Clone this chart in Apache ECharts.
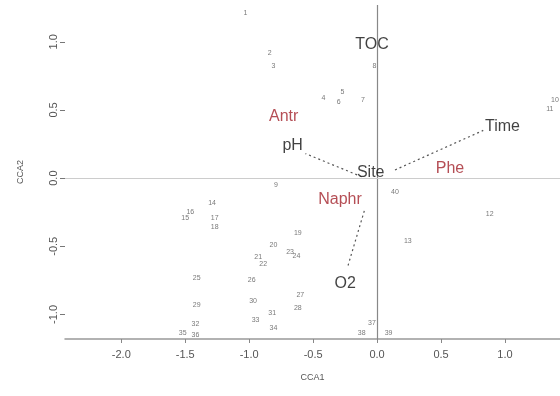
<!DOCTYPE html>
<html>
<head>
<meta charset="utf-8">
<script src="https://cdn.jsdelivr.net/npm/echarts@6/dist/echarts.min.js"></script>
<style>
  html, body { margin: 0; padding: 0; background: #fff; }
  #chart { width: 560px; height: 396px; }
</style>
</head>
<body>
<div id="chart"></div>
<script>
// axis ticks
const xTicks = [-2.0, -1.5, -1.0, -0.5, 0.0, 0.5, 1.0];
const yTicks = [-1.0, -0.5, 0.0, 0.5, 1.0];

// site scores (CCA1, CCA2)
const siteIds = ["1", "2", "3", "4", "5", "6", "7", "8", "9", "10",
  "11", "12", "13", "14", "15", "16", "17", "18", "19", "20",
  "21", "22", "23", "24", "25", "26", "27", "28", "29", "30",
  "31", "32", "33", "34", "35", "36", "37", "38", "39", "40"];
const siteX = [-1.03, -0.84, -0.81, -0.42, -0.27, -0.30, -0.11, -0.02, -0.79, 1.39,
  1.35, 0.88, 0.24, -1.29, -1.50, -1.46, -1.27, -1.27, -0.62, -0.81,
  -0.93, -0.89, -0.68, -0.63, -1.41, -0.98, -0.60, -0.62, -1.41, -0.97,
  -0.82, -1.42, -0.95, -0.81, -1.52, -1.42, -0.04, -0.12, 0.09, 0.14];
const siteY = [1.21, 0.92, 0.82, 0.59, 0.63, 0.56, 0.57, 0.82, -0.05, 0.57,
  0.51, -0.26, -0.46, -0.18, -0.29, -0.25, -0.29, -0.36, -0.40, -0.49,
  -0.58, -0.63, -0.54, -0.57, -0.73, -0.75, -0.86, -0.95, -0.93, -0.90,
  -0.99, -1.07, -1.04, -1.10, -1.14, -1.15, -1.06, -1.14, -1.14, -0.10];

// variable labels
const varNames = ["TOC", "Antr", "pH", "Time", "Site", "Phe", "Naphr", "O2"];
const varX = [-0.04, -0.73, -0.66, 0.98, -0.05, 0.57, -0.29, -0.25];
const varY = [0.98, 0.45, 0.24, 0.38, 0.04, 0.07, -0.16, -0.77];
const varRed = [false, true, false, false, false, true, true, false];

// dotted vectors from the centre
const vecStartX = [-0.12, 0.14, -0.10];
const vecStartY = [0.01, 0.06, -0.24];
const vecEndX = [-0.56, 0.83, -0.23];
const vecEndY = [0.18, 0.35, -0.65];

const chart = echarts.init(document.getElementById("chart"));

const vecSeries = vecStartX.map((x0, i) => ({
  type: "line",
  data: [[x0, vecStartY[i]], [vecEndX[i], vecEndY[i]]],
  symbol: "none",
  silent: true,
  lineStyle: { color: "#555", width: 1.2, type: [2, 3] },
  z: 3
}));

chart.setOption({
  animation: false,
  backgroundColor: "#fff",
  textStyle: { fontFamily: "Liberation Sans, Arial, sans-serif" },
  grid: { left: 65, right: 0, top: 5, bottom: 57 },
  xAxis: {
    type: "value",
    min: -2.44,
    max: 1.43,
    name: "CCA1",
    nameLocation: "middle",
    nameGap: 34,
    nameTextStyle: { fontSize: 9, color: "#555" },
    axisLine: { show: true, onZero: false, lineStyle: { color: "#999", width: 1.5 } },
    axisTick: { show: true, length: 4, customValues: xTicks, lineStyle: { color: "#888" } },
    axisLabel: {
      fontSize: 11, color: "#555", margin: 10,
      customValues: xTicks,
      formatter: v => v.toFixed(1)
    },
    splitLine: { show: false }
  },
  yAxis: {
    type: "value",
    min: -1.18,
    max: 1.27,
    name: "CCA2",
    nameLocation: "middle",
    nameGap: 40,
    nameRotate: 90,
    nameTextStyle: { fontSize: 9, color: "#555" },
    axisLine: { show: false, onZero: false },
    axisTick: { show: true, length: 5, customValues: yTicks, lineStyle: { color: "#777" } },
    axisLabel: {
      fontSize: 11, color: "#555", margin: 6, rotate: 90,
      customValues: yTicks,
      formatter: v => v.toFixed(1)
    },
    splitLine: { show: false }
  },
  series: [
    {
      type: "line",
      data: [],
      silent: true,
      markLine: {
        symbol: "none",
        silent: true,
        label: { show: false },
        data: [
          { xAxis: 0, lineStyle: { color: "#888", width: 1.2, type: "solid" } },
          { yAxis: 0, lineStyle: { color: "#ccc", width: 1.2, type: "solid" } }
        ]
      }
    },
    {
      type: "scatter",
      data: siteX.map((x, i) => ({ value: [x, siteY[i]], name: siteIds[i] })),
      symbolSize: 0,
      silent: true,
      label: {
        show: true,
        position: "inside",
        formatter: p => p.name,
        fontSize: 7,
        color: "#555"
      },
      z: 2
    },
    ...vecSeries,
    {
      type: "scatter",
      data: varX.map((x, i) => ({
        value: [x, varY[i]],
        name: varNames[i],
        label: { color: varRed[i] ? "#a3222b" : "#111" }
      })),
      symbolSize: 0,
      silent: true,
      label: {
        show: true,
        position: "inside",
        formatter: p => p.name,
        fontSize: 16
      },
      z: 5
    }
  ]
});
</script>
</body>
</html>
